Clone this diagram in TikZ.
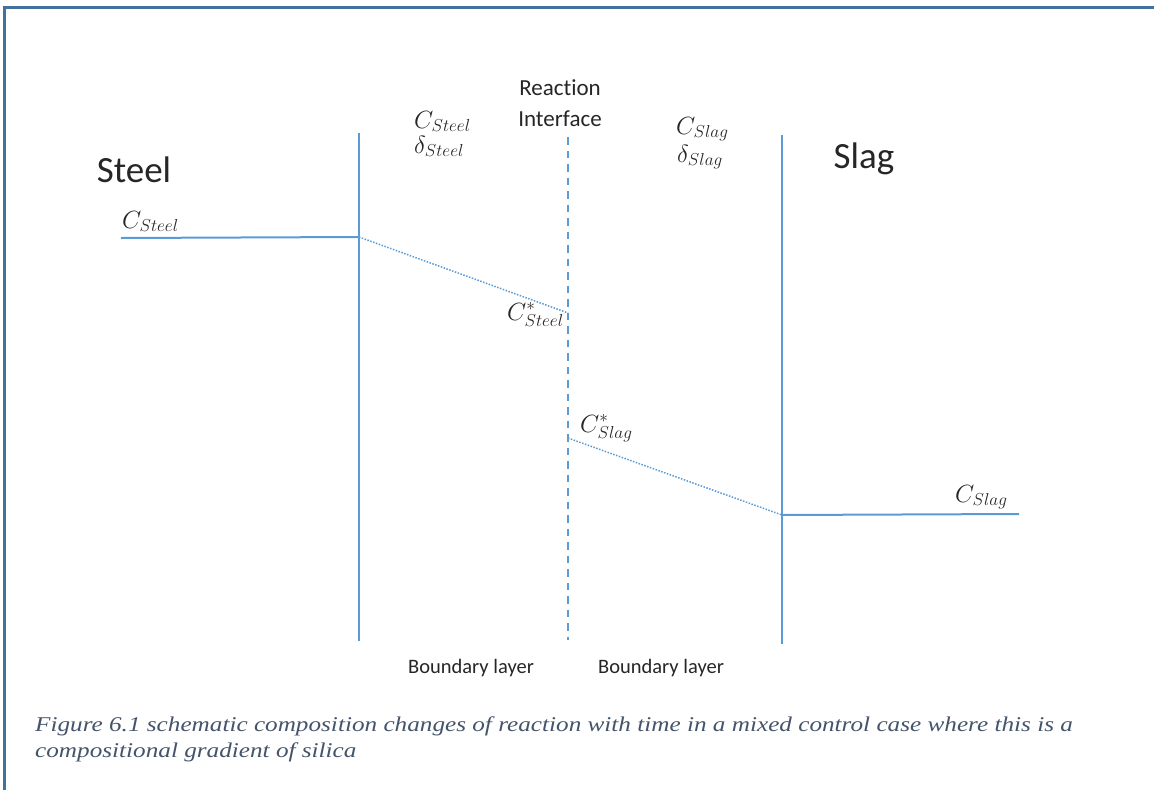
\documentclass[tikz,border=0pt]{standalone}
\usepackage{fontspec}
\setmainfont{Liberation Serif}
\newfontfamily\capfont{Liberation Serif}
\newfontfamily\calib[Ligatures={NoCommon}]{Carlito}
\definecolor{framec}{HTML}{41719C}
\definecolor{linec}{HTML}{5B9BD5}
\definecolor{capc}{HTML}{44546A}
\definecolor{txtc}{HTML}{262626}
\newcommand{\capwide}[1]{\scalebox{1.2}[1]{#1}}
\begin{document}
\begin{tikzpicture}[x=1pt,y=-1pt,
  framestyle/.style={draw=framec,line width=3pt},
  solidline/.style={draw=linec,line width=2pt},
  dotline/.style={draw=linec,line width=1.5pt,dash pattern=on 1.5pt off 1.5pt},
  dashline/.style={draw=linec,line width=2pt,dash pattern=on 7.5pt off 6pt},
  phase/.style={inner sep=0pt,anchor=base,text=txtc,font=\calib\fontsize{37}{44}\selectfont},
  iface/.style={inner sep=0pt,anchor=base,text=txtc,font=\calib\fontsize{23}{28}\selectfont},
  layer/.style={inner sep=0pt,anchor=base,text=txtc,font=\calib\fontsize{20.5}{25}\selectfont},
  conc/.style={inner sep=0pt,anchor=base west,text=txtc,font=\fontsize{24}{28}\selectfont},
  caption/.style={inner sep=0pt,anchor=base west,text=capc,font=\capfont\itshape\fontsize{21}{26}\selectfont}]
\useasboundingbox (0,0) rectangle (1154,790);

% frame
\coordinate (f0) at (4,790);
\coordinate (f1) at (4,7);
\coordinate (f2) at (1154,7);
\draw[framestyle] (f0) -- (f1) -- (f2);

% phase boundaries and interface
\coordinate (lt) at (359,133); \coordinate (lb) at (359,641);
\coordinate (rt) at (782,135); \coordinate (rb) at (782,644);
\coordinate (it) at (568,137); \coordinate (ib) at (568,640);
\draw[solidline] (lt) -- (lb);
\draw[solidline] (rt) -- (rb);
\draw[dashline] (it) -- (ib);

% concentration profile
\coordinate (cs0) at (121,238); \coordinate (cs1) at (359,237);
\coordinate (cs2) at (568,313);
\coordinate (cg0) at (568,438); \coordinate (cg1) at (782,515);
\coordinate (cg2) at (1019,514);
\draw[solidline] (cs0) -- (cs1);
\draw[dotline] (cs1) -- (cs2);
\draw[dotline] (cg0) -- (cg1);
\draw[solidline] (cg1) -- (cg2);

% labels
\node[phase] (steel) at (134,182) {Steel};
\node[phase] (slag) at (864,168) {Slag};
\node[iface] (reac) at (560,95) {Reaction};
\node[iface] (intf) at (560,126) {Interface};
\node[conc] (csl) at (122,228) {$C_{Steel}$};
\node[conc] (cst) at (414,128) {$C_{Steel}$};
\node[conc] (dst) at (414,153) {$\delta_{Steel}$};
\node[conc] (cgt) at (676,134) {$C_{Slag}$};
\node[conc] (dgt) at (677,162) {$\delta_{Slag}$};
\node[conc] (csi) at (507,320) {$C^*_{Steel}$};
\node[conc] (cgi) at (580,432) {$C^*_{Slag}$};
\node[conc] (cgr) at (955,502) {$C_{Slag}$};
\node[layer] (bl1) at (471,673) {Boundary layer};
\node[layer] (bl2) at (661,673) {Boundary layer};

% caption
\node[caption] (cap1) at (35,731) {\capwide{Figure 6.1 schematic composition changes of reaction with time in a mixed control case where this is a}};
\node[caption] (cap2) at (35,757) {\capwide{compositional gradient of silica}};
\end{tikzpicture}
\end{document}
